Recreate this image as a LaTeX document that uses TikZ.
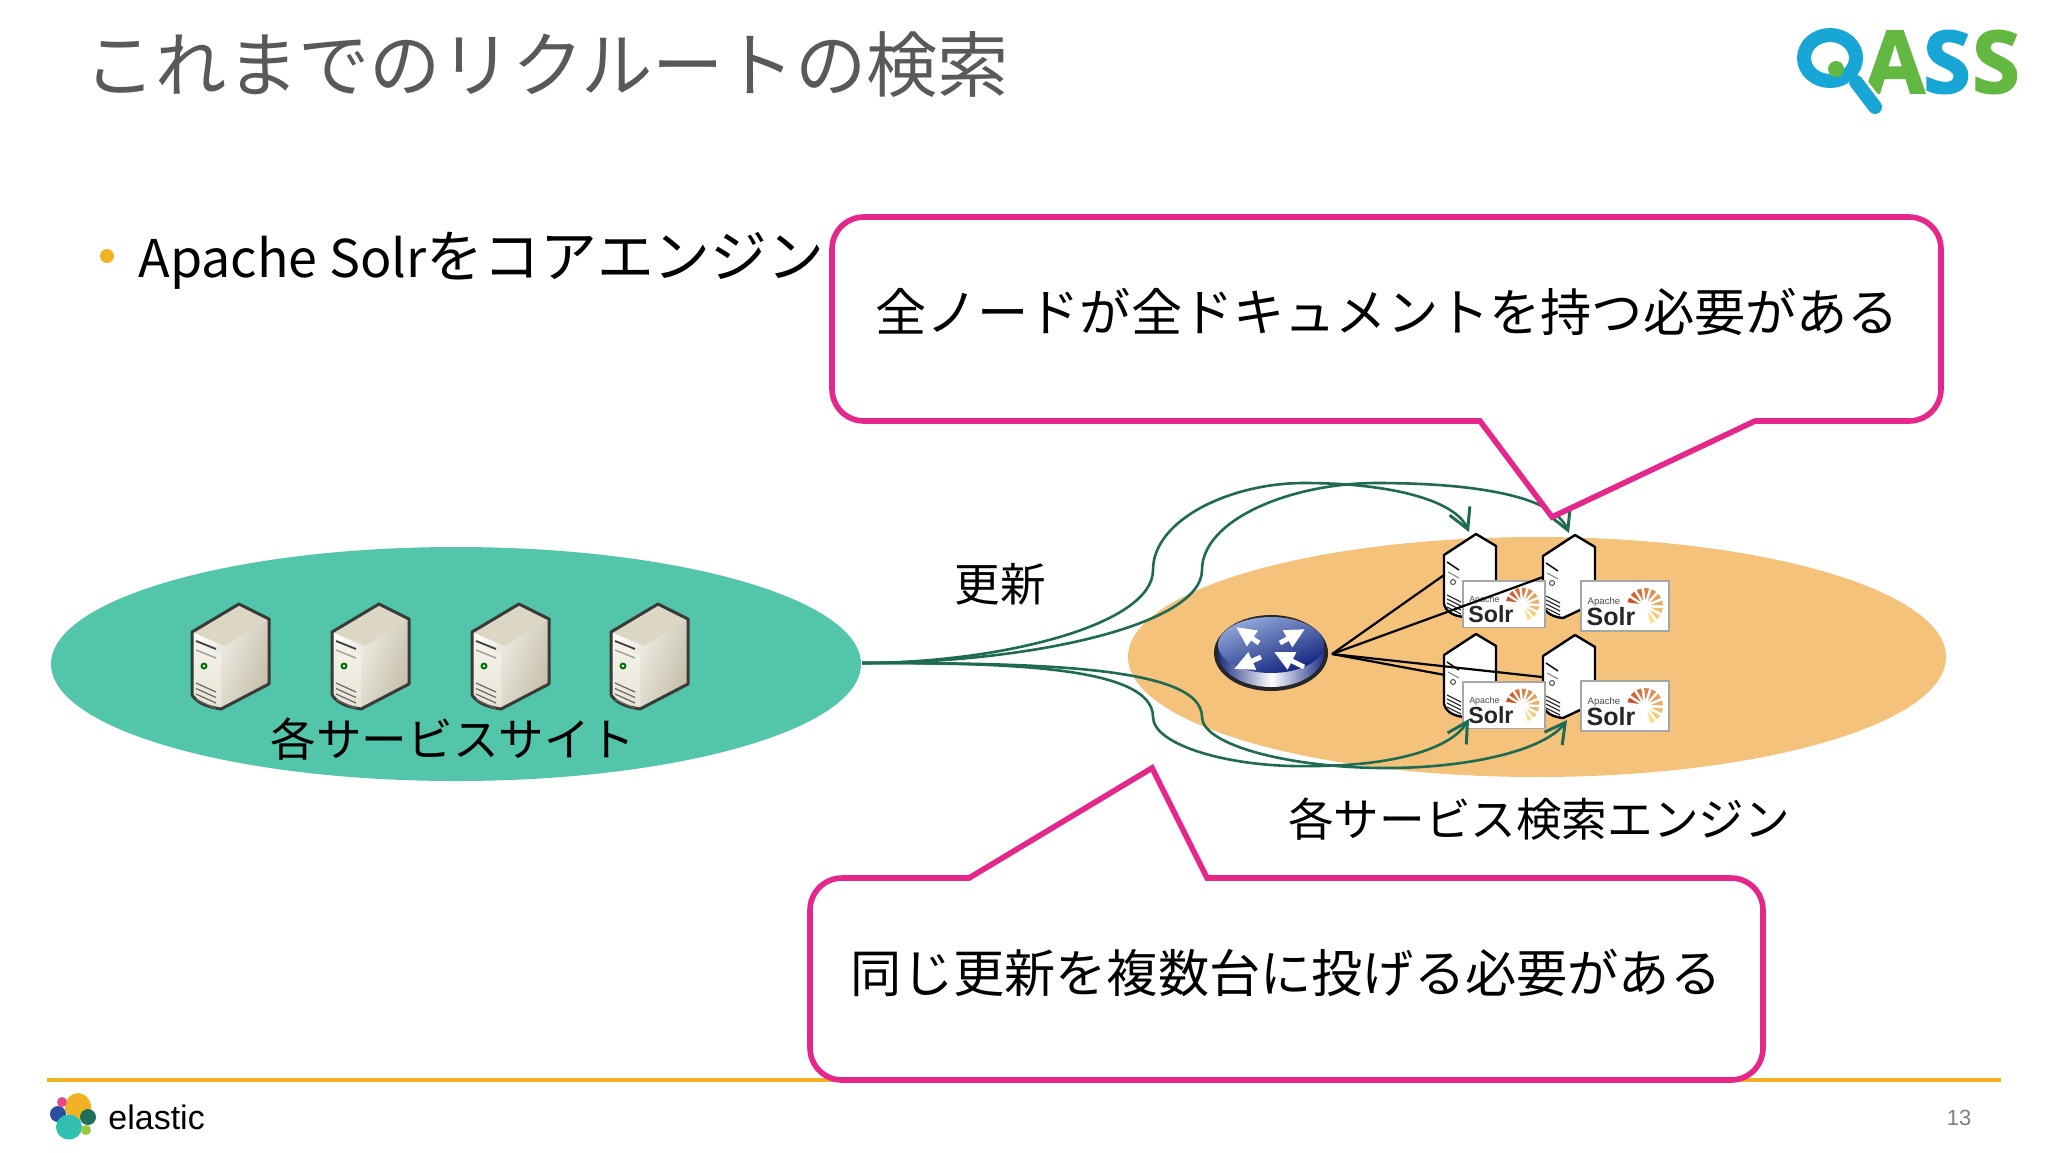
\documentclass[tikz,border=0pt]{standalone}
\usepackage{fontspec}
\usetikzlibrary{arrows.meta}
\setmainfont{Noto Sans CJK JP}
\newfontfamily\latfont{Liberation Sans}
\newfontfamily\logofont[BoldFeatures={FakeBold=2.2}]{Open Sans}
\definecolor{pinkline}{HTML}{E5278C}
\definecolor{greenline}{HTML}{1E6B52}
\definecolor{tealfill}{HTML}{52C5AB}
\definecolor{orangefill}{HTML}{F4C27A}
\definecolor{goldline}{HTML}{F0B323}
\definecolor{titlegray}{HTML}{595959}
\definecolor{qblue}{HTML}{18A6D6}
\definecolor{qgreen}{HTML}{62B840}
\definecolor{srvtop}{HTML}{DCD7C4}
\definecolor{srvside}{HTML}{C6C0AA}
\definecolor{srvfront}{HTML}{F8F6EE}
\definecolor{srvedge}{HTML}{3A3A36}
\definecolor{rayhot}{HTML}{CC5228}
\definecolor{raycold}{HTML}{F8DE85}
\definecolor{rtlight}{HTML}{93A9D9}
\definecolor{rtdark}{HTML}{0F217C}
\definecolor{elpink}{HTML}{E9478B}
\definecolor{elblue}{HTML}{2B4E9E}
\definecolor{elteal}{HTML}{2FC0B1}
\definecolor{elgreen}{HTML}{1E6F5C}
\definecolor{ellime}{HTML}{9BC93B}
\tikzset{
  callout/.style={draw=pinkline,line width=2.8pt,fill=white,line join=miter},
  calltext/.style={font=\fontsize{25.6}{30}\selectfont,text=black,inner sep=0pt},
  label/.style={font=\fontsize{22.8}{28}\selectfont,text=black,inner sep=0pt},
  feed/.style={draw=greenline,line width=1.3pt,-{Straight Barb[length=10pt,width=11pt,line width=1.5pt]}},
  spoke/.style={draw=black,line width=1.1pt},
  logoletter/.style={font=\logofont\bfseries\fontsize{43}{50}\selectfont,inner sep=0pt,anchor=center},
  pics/bigserver/.style={code={
    \shade[left color=white,right color=srvside,shading angle=70]
      (0,0) -- (30,15) -- (30,80) -- (-18,105) -- (-47,91) -- (-47,28) -- cycle;
    \shade[top color=srvfront,bottom color=srvtop!70!white] (-47,28) .. controls (-35,45) and (-25,50) .. (-18,50) -- (-18,105) .. controls (-30,103) and (-40,100) .. (-47,91) -- cycle;
    \fill[srvtop] (0,0) -- (30,15) -- (-14,42) -- (-47,28) -- cycle;
    \draw[srvedge,line width=1.5pt,line join=round]
      (0,0) -- (30,15) -- (30,80) -- (-18,105) .. controls (-30,103) and (-41,100) .. (-47,91) -- (-47,28) -- cycle;
    \draw[black!75,line width=.9pt] (-43,37) -- (-23,45);
    \draw[black!35,line width=.8pt] (-43,46) -- (-23,54);
    \fill[green!45!black] (-35,62) circle [radius=3.5];
    \fill[white] (-35,62) circle [radius=1.4];
    \foreach \k in {0,1,2,3}
      \draw[black!60,line width=.6pt] (-43,79+\k*5.5) -- (-23,88+\k*5.5);
  }},
  pics/smallserver/.style={code={
    \draw[fill=white,draw=black,line width=1.2pt,line join=round]
      (0,0) -- (20,12) -- (20,68) -- (-12,83) .. controls (-22,82) and (-30,78) .. (-32,70) -- (-32,21) -- cycle;
    \draw[black,line width=.7pt] (-29,28) -- (-17,36);
    \draw[black!50,line width=.5pt] (-28,38) -- (-17,44);
    \draw[black!70,line width=.5pt] (-23,48) circle [radius=2.5];
    \foreach \k in {0,1,2,3}
      \draw[black!80,line width=.6pt] (-29,61+\k*4) -- (-15,68+\k*4);
  }},
  pics/solrbox/.style={code={
    \draw[fill=white,draw=black!35,line width=.8pt] (0,0) rectangle (88,50);
    \node[font=\latfont\fontsize{4.8}{6}\selectfont,text=black!70,inner sep=0pt,transform shape] at (23,21) {Apache};
    \node[font=\latfont\bfseries\fontsize{12.5}{14}\selectfont,text=black!85,inner sep=0pt,transform shape] at (30,36) {Solr};
    \foreach \i in {0,...,9}{
      \pgfmathsetmacro{\ang}{160-\i*25}
      \pgfmathsetmacro{\mixv}{\i*11}
      \pgfmathsetmacro{\axa}{64+6*cos(\ang)}
      \pgfmathsetmacro{\aya}{25-6*sin(\ang)}
      \pgfmathsetmacro{\bxa}{64+18*cos(\ang-8)}
      \pgfmathsetmacro{\bya}{25-18*sin(\ang-8)}
      \pgfmathsetmacro{\cxa}{64+18*cos(\ang+8)}
      \pgfmathsetmacro{\cya}{25-18*sin(\ang+8)}
      \fill[raycold!\mixv!rayhot] (\axa,\aya) -- (\bxa,\bya) -- (\cxa,\cya) -- cycle;
    }
  }}
}
\begin{document}
\begin{tikzpicture}[x=0.5pt,y=-0.5pt]
\useasboundingbox (0,0) rectangle (2048,1152);
\fill[white] (0,0) rectangle (2048,1152);

% title and bullet
\node[anchor=west,inner sep=0pt,text=titlegray,font=\fontsize{35.65}{40}\selectfont] (title) at (84,65) {これまでのリクルートの検索};
\fill[goldline] (107,256) circle [radius=7];
\node[anchor=west,inner sep=0pt,text=black] (bullet) at (138,261) {{\fontsize{26}{30}\selectfont Apache Solr}{\fontsize{28.4}{30}\selectfont をコアエンジン}};

% QASS logo
\draw[qblue,line width=7pt] (1830,58) ellipse [x radius=26,y radius=23];
\fill[qgreen] (1836,69) circle [radius=8];
\node[logoletter,text=qgreen] (qa) at (1895,62) {A};
\node[logoletter,text=qblue] (qs1) at (1947,62) {S};
\node[logoletter,text=qgreen] (qs2) at (1996,62) {S};
\draw[white,line width=10pt,line cap=round] (1858,85) -- (1875,107);
\draw[qblue,line width=7pt,line cap=round] (1856,82) -- (1875,107);

% ellipses
\fill[tealfill] (456,664) ellipse [x radius=405,y radius=117];
\fill[orangefill] (1537,657) ellipse [x radius=409,y radius=120];

% left servers
\pic (ls1) at (239,604) {bigserver};
\pic (ls2) at (379,604) {bigserver};
\pic (ls3) at (519,604) {bigserver};
\pic (ls4) at (658,604) {bigserver};
\node[label] (sites) at (453,739) {各サービスサイト};

% router
\fill[black!85] (1271,653) ellipse [x radius=57,y radius=38];
\begin{scope}
\clip (1271,653) ellipse [x radius=53,y radius=34];
\shade[left color=rtdark,right color=rtdark,middle color=white] (1215,640) rectangle (1328,690);
\end{scope}
\shade[left color=rtlight,right color=rtdark,shading angle=20] (1271,645) ellipse [x radius=53,y radius=28];
\draw[white,line width=2.4pt,-{Triangle[length=10pt,width=9pt]}] (1259,643) -- (1236,627);
\draw[white,line width=2.4pt,-{Triangle[length=10pt,width=9pt]}] (1280,643) -- (1305,629);
\draw[white,line width=2.4pt,-{Triangle[length=10pt,width=9pt]}] (1261,657) -- (1234,669);
\draw[white,line width=2.4pt,-{Triangle[length=10pt,width=9pt]}] (1304,667) -- (1274,652);

% right servers
\pic (rs1) at (1476,534) {smallserver};
\pic (rs2) at (1575,535) {smallserver};
\pic (rs3) at (1476,634) {smallserver};
\pic (rs4) at (1575,635) {smallserver};
\pic[scale=.93] (sb1) at (1463,581) {solrbox};
\pic (sb2) at (1581,581) {solrbox};
\pic[scale=.93] (sb3) at (1463,682) {solrbox};
\pic (sb4) at (1581,681) {solrbox};

% named connector ends
\coordinate (hub) at (1332,654);
\coordinate (hubA) at (1444,575);
\coordinate (hubB) at (1543,577);
\coordinate (hubC) at (1445,675);
\coordinate (hubD) at (1542,677);
\coordinate (src) at (862,663);
\coordinate (upA) at (1469,532);
\coordinate (upB) at (1569,533);
\coordinate (dnA) at (1469,719);
\coordinate (dnB) at (1567,720);

\draw[spoke] (hub) -- (hubA);
\draw[spoke] (hub) -- (hubB);
\draw[spoke] (hub) -- (hubC);
\draw[spoke] (hub) -- (hubD);

% update curves
\draw[feed] (src) .. controls (1000,663) and (1153,625) .. (1153,570) .. controls (1153,520) and (1230,483) .. (1304,483) .. controls (1390,483) and (1455,500) .. (upA);
\draw[feed] (src) .. controls (1030,663) and (1202,625) .. (1202,570) .. controls (1202,520) and (1290,483) .. (1377,483) .. controls (1470,483) and (1553,495) .. (upB);
\draw[feed] (src) .. controls (1000,663) and (1153,665) .. (1153,717) .. controls (1153,745) and (1230,768) .. (1312,766) .. controls (1390,766) and (1450,750) .. (dnA);
\draw[feed] (src) .. controls (1030,663) and (1202,665) .. (1202,717) .. controls (1202,745) and (1290,768) .. (1386,768) .. controls (1470,768) and (1545,750) .. (dnB);

% labels
\node[label] (upd) at (1000,584) {更新};
\node[label] (eng) at (1539,819) {各サービス検索エンジン};

% footer
\draw[goldline,line width=1.6pt] (47,1080) -- (2001,1080);

% callouts
\draw[callout] (1200,421) -- (1480,421) -- (1552,517) -- (1755,421) -- (1756,421) [rounded corners=16pt] -- (1941,421) -- (1941,217) -- (832,217) -- (832,421) -- cycle;
\node[calltext] (c1) at (1387,312) {全ノードが全ドキュメントを持つ必要がある};
\draw[callout] (900,878) -- (969,878) -- (1152,768) -- (1207,878) -- (1208,878) [rounded corners=16pt] -- (1763,878) -- (1763,1080) -- (810,1080) -- (810,878) -- cycle;
\node[calltext] (c2) at (1286,973) {同じ更新を複数台に投げる必要がある};

% elastic logo
\fill[goldline] (78,1107) ellipse [x radius=13,y radius=14];
\fill[elpink] (62,1102) ellipse [x radius=5,y radius=5];
\fill[elblue] (58,1114) ellipse [x radius=8,y radius=8];
\fill[elteal] (69,1127) ellipse [x radius=13,y radius=12.5];
\fill[elgreen] (88,1117) ellipse [x radius=8,y radius=8];
\fill[ellime] (86,1130) ellipse [x radius=5,y radius=5];
\node[anchor=west,inner sep=0pt,font=\latfont\fontsize{17}{20}\selectfont,text=black] (elastic) at (108,1117) {elastic};
\node[inner sep=0pt,font=\latfont\fontsize{11}{13}\selectfont,text=black!50] (pageno) at (1959,1118) {13};
\end{tikzpicture}
\end{document}
